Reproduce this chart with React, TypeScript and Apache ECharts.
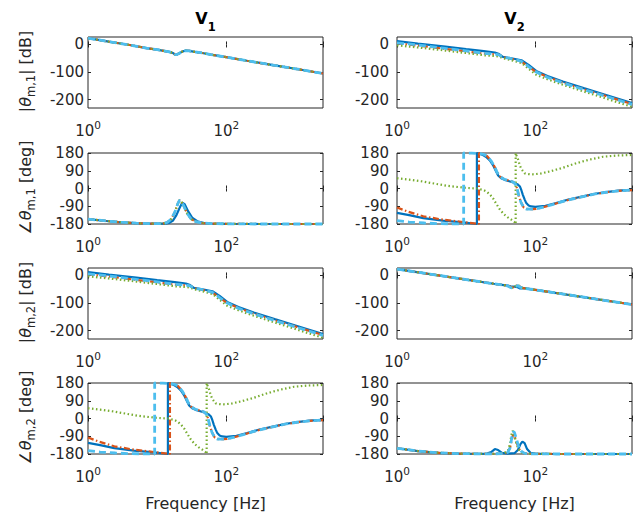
import React, { useEffect, useRef } from "react";
import * as echarts from "echarts";

// ---------------- data ----------------
// Row 1, V1 : |theta_m,1| [dB]
const fMagV1M1 = [1, 2, 4, 7, 10, 13, 15, 17, 18, 19, 21, 23, 26, 29, 35, 45, 60, 100, 200, 500, 1000, 2500];
const magV1M1 = [23, 10, -2, -13, -19, -24, -27, -31, -36, -37, -32, -26, -22, -23, -27, -31, -37, -46, -59, -76, -88, -105];

// Row 1, V2 : |theta_m,1| and Row 3, V1 : |theta_m,2| (cross terms)
const fMagCross = [1, 2, 5, 10, 18, 26, 30, 34, 45, 63, 80, 103, 150, 250, 500, 1000, 2500];
const magCrossBlue = [12, 3, -8, -17, -24, -29, -35, -45, -50, -57, -74, -96, -114, -134, -158, -181, -212];
const magCrossOrange = [4, -4, -16, -25, -33, -36, -38, -46, -52, -62, -80, -100, -118, -138, -162, -185, -216];
const magCrossGreen = [-3, -11, -22, -31, -39, -42, -44, -50, -57, -67, -88, -110, -126, -146, -170, -194, -226];
const magCrossCyan = [6, -2, -14, -23, -32, -35, -38, -46, -51, -61, -80, -100, -119, -139, -163, -186, -217];

// Row 2, V1 : angle theta_m,1 [deg]
const fPhV1M1 = [1, 2, 3, 5, 8, 12, 14, 16, 18, 20, 21, 22, 24, 27, 31, 36, 45, 60, 100, 300, 1000, 2500];
const phV1M1 = [-155, -166, -171, -176, -178, -178, -172, -155, -120, -75, -60, -62, -85, -125, -155, -168, -175, -178, -179, -180, -180, -180];
const fPhV1M1Blue = [1, 2, 3, 5, 8, 13, 15, 17, 19, 21, 23, 25, 28, 32, 38, 48, 60, 100, 300, 1000, 2500];
const phV1M1Blue = [-155, -166, -171, -176, -178, -178, -174, -162, -135, -100, -72, -80, -115, -148, -166, -175, -178, -179, -180, -180, -180];

// Row 2, V2 : angle theta_m,1 and Row 4, V1 : angle theta_m,2 (cross terms)
const fPhCrossBlue = [1, 1.5, 2.4, 4.6, 9, 14.3, 14.3, 17, 19.5, 22, 24.4, 27, 29, 32, 36, 42, 48, 55, 60, 63, 66, 70, 74, 80, 87, 100, 140, 200, 300, 490, 700, 1050, 1600, 2500];
const phCrossBlue = [-124, -135, -150, -163, -172, -180, 180, 172, 160, 142, 119, 88, 66, 52, 44, 37, 30, 22, 10, -10, -32, -55, -74, -86, -91, -93, -88, -74, -56, -40, -28, -18, -11, -7];
const fPhCrossOrange = [1, 1.4, 2.4, 4.6, 9, 15.3, 15.3, 18, 20, 23, 26, 28, 31, 35, 42, 48, 52, 55, 58, 62, 68, 74, 90, 103, 140, 200, 300, 490, 700, 1050, 1600, 2500];
const phCrossOrange = [-96, -116, -141, -158, -170, -180, 180, 174, 165, 140, 108, 82, 60, 48, 40, 33, 20, -5, -40, -70, -96, -104, -105, -103, -92, -76, -58, -41, -29, -19, -12, -8];
const fPhCrossGreen = [1, 1.5, 2.4, 5.2, 10, 14.3, 17.5, 19.6, 22, 24.4, 27, 30.5, 35, 40, 45, 50, 52, 52, 53, 56, 60, 63, 70, 80, 92, 120, 160, 250, 390, 600, 950, 1500, 2500];
const phCrossGreen = [52, 45, 35, 14, 3, 0, -7, -15, -30, -49, -75, -105, -130, -146, -158, -170, -180, 180, 170, 150, 115, 99, 77, 73, 72, 76, 86, 105, 128, 146, 161, 167, 170];
const fPhCrossCyan = [1, 1.5, 2.5, 4, 6, 9.2, 9.2, 12, 15, 18, 20, 23, 26, 28, 31, 35, 42, 48, 52, 55, 58, 62, 68, 74, 90, 103, 140, 200, 300, 490, 700, 1050, 1600, 2500];
const phCrossCyan = [-163, -170, -175, -178, -179, -180, 180, 179, 178, 173, 164, 140, 108, 82, 60, 48, 40, 33, 20, -5, -40, -70, -96, -104, -105, -103, -92, -76, -58, -41, -29, -19, -12, -8];

// Row 3, V2 : |theta_m,2| [dB]
const fMagV2M2 = [1, 3, 10, 25, 35, 40, 44, 48, 52, 56, 60, 65, 72, 100, 300, 1000, 2500];
const magV2M2Blue = [23, 5, -15, -30, -35, -37, -39, -40, -41, -43, -47, -46, -47, -52, -70, -90, -105];
const magV2M2Orange = [23, 5, -15, -30, -35, -37, -41, -43, -38, -35, -40, -45, -47, -52, -70, -90, -105];
const magV2M2Green = [23, 5, -15, -30, -35, -38, -44, -45, -38, -34, -41, -45, -47, -52, -70, -90, -105];
const magV2M2Cyan = [23, 5, -15, -30, -35, -38, -44, -45, -40, -37, -42, -45, -47, -52, -70, -90, -105];

// Row 4, V2 : angle theta_m,2 [deg]
const fPhV2M2Blue = [1, 2, 4, 8, 15, 20, 23, 26, 29, 33, 40, 50, 56, 61, 65, 70, 76, 85, 100, 150, 500, 2500];
const phV2M2Blue = [-151, -165, -174, -178, -179, -178, -170, -155, -160, -174, -178, -176, -160, -130, -117, -125, -155, -174, -178, -179, -180, -180];
const fPhV2M2 = [1, 2, 4, 8, 15, 25, 35, 40, 43, 45, 47, 48.5, 50, 53, 57, 62, 70, 90, 200, 2500];
const phV2M2Orange = [-151, -165, -174, -178, -179, -179, -178, -170, -150, -118, -90, -80, -88, -115, -150, -168, -177, -179, -180, -180];
const phV2M2Green = [-151, -165, -174, -178, -179, -179, -176, -165, -130, -85, -63, -70, -90, -125, -155, -172, -178, -179, -180, -180];
const phV2M2Cyan = [-151, -165, -174, -178, -179, -179, -178, -172, -150, -110, -75, -66, -72, -100, -140, -165, -177, -179, -180, -180];

// Axis ticks / labels
const magTicks = [-200, -100, 0];
const columnTitles = ["1", "2"];
const xLabelExponents = [0, 2];

// ---------------- style / layout ----------------
const BLUE = "#0072BD";
const ORANGE = "#D95319";
const GREEN = "#77AC30";
const CYAN = "#4DBEEE";
const AX = "#262626";
const FONT = "DejaVu Sans";

const COL_LEFT = [88, 397];
const ROW_TOP = [37, 153, 268, 383];
const GW = 235;
const GH = 71;
const LABEL_MARGIN = [4, 8];

const LINE_STYLES = [
  { color: BLUE, width: 2.2, type: "solid" as any },
  { color: ORANGE, width: 2.2, type: [6, 2.5, 1.5, 2.5] as any },
  { color: GREEN, width: 2.2, type: [1.5, 2.5] as any },
  { color: CYAN, width: 2.8, type: [7, 4] as any },
];

type Pair = [number[], number[]];
interface Panel {
  row: number;
  col: number;
  kind: "mag" | "phase";
  lines: Pair[]; // blue, orange, green, cyan
}

const panels: Panel[] = [
  { row: 0, col: 0, kind: "mag", lines: [[fMagV1M1, magV1M1], [fMagV1M1, magV1M1], [fMagV1M1, magV1M1], [fMagV1M1, magV1M1]] },
  { row: 0, col: 1, kind: "mag", lines: [[fMagCross, magCrossBlue], [fMagCross, magCrossOrange], [fMagCross, magCrossGreen], [fMagCross, magCrossCyan]] },
  { row: 1, col: 0, kind: "phase", lines: [[fPhV1M1Blue, phV1M1Blue], [fPhV1M1, phV1M1], [fPhV1M1, phV1M1], [fPhV1M1, phV1M1]] },
  { row: 1, col: 1, kind: "phase", lines: [[fPhCrossBlue, phCrossBlue], [fPhCrossOrange, phCrossOrange], [fPhCrossGreen, phCrossGreen], [fPhCrossCyan, phCrossCyan]] },
  { row: 2, col: 0, kind: "mag", lines: [[fMagCross, magCrossBlue], [fMagCross, magCrossOrange], [fMagCross, magCrossGreen], [fMagCross, magCrossCyan]] },
  { row: 2, col: 1, kind: "mag", lines: [[fMagV2M2, magV2M2Blue], [fMagV2M2, magV2M2Orange], [fMagV2M2, magV2M2Green], [fMagV2M2, magV2M2Cyan]] },
  { row: 3, col: 0, kind: "phase", lines: [[fPhCrossBlue, phCrossBlue], [fPhCrossOrange, phCrossOrange], [fPhCrossGreen, phCrossGreen], [fPhCrossCyan, phCrossCyan]] },
  { row: 3, col: 1, kind: "phase", lines: [[fPhV2M2Blue, phV2M2Blue], [fPhV2M2, phV2M2Orange], [fPhV2M2, phV2M2Green], [fPhV2M2, phV2M2Cyan]] },
];

const zip = (f: number[], v: number[]) => f.map((x, i) => [x, v[i]]);

function xLabelFormatter(v: number) {
  const e = Math.log10(v);
  const r = Math.round(e);
  if (Math.abs(e - r) > 1e-6 || xLabelExponents.indexOf(r) < 0) return "";
  return `{b|10}{s|${r}}`;
}

function buildOption(): any {
  const grid: any[] = [];
  const xAxis: any[] = [];
  const yAxis: any[] = [];
  const series: any[] = [];

  const tickStyle = { inside: true, length: 3, lineStyle: { color: AX, width: 1 } };

  panels.forEach((p) => {
    grid.push({
      left: COL_LEFT[p.col],
      top: ROW_TOP[p.row],
      width: GW,
      height: GH,
      show: true,
      borderColor: AX,
      borderWidth: 1,
      backgroundColor: "#fff",
      containLabel: false,
    });
  });

  // primary x axes
  panels.forEach((p, i) => {
    xAxis.push({
      type: "log",
      logBase: 10,
      gridIndex: i,
      min: 1,
      max: 2500,
      interval: 2,
      position: "bottom",
      axisLine: { show: false },
      axisTick: tickStyle,
      minorTick: { show: false },
      splitLine: { show: false },
      axisLabel: {
        show: true,
        margin: 11,
        color: AX,
        fontFamily: FONT,
        formatter: xLabelFormatter,
        showMinLabel: true,
        rich: {
          b: { fontSize: 15, fontFamily: FONT, color: AX, verticalAlign: "top", padding: [4, 0, 0, 0] },
          s: { fontSize: 10.5, fontFamily: FONT, color: AX, verticalAlign: "top" },
        },
      },
    });
  });
  // mirrored top x axes
  panels.forEach((p, i) => {
    xAxis.push({
      type: "log",
      logBase: 10,
      gridIndex: i,
      min: 1,
      max: 2500,
      interval: 2,
      position: "top",
      axisLine: { show: false },
      axisTick: tickStyle,
      axisLabel: { show: false },
      splitLine: { show: false },
    });
  });

  const yCommon = (p: Panel, i: number, right: boolean) => {
    const base: any = {
      type: "value",
      gridIndex: i,
      position: right ? "right" : "left",
      axisLine: { show: false },
      splitLine: { show: false },
    };
    const lbl = { color: AX, fontFamily: FONT, fontSize: 15, margin: LABEL_MARGIN[p.col] };
    if (p.kind === "mag") {
      base.min = -230;
      base.max = 27;
      base.axisTick = { ...tickStyle, customValues: magTicks };
      base.axisLabel = right ? { show: false } : { ...lbl, customValues: magTicks };
    } else {
      base.min = -180;
      base.max = 180;
      base.interval = 90;
      base.axisTick = tickStyle;
      base.axisLabel = right ? { show: false } : lbl;
    }
    return base;
  };
  panels.forEach((p, i) => yAxis.push(yCommon(p, i, false)));
  panels.forEach((p, i) => yAxis.push(yCommon(p, i, true)));

  panels.forEach((p, i) => {
    p.lines.forEach((pair, k) => {
      series.push({
        type: "line",
        xAxisIndex: i,
        yAxisIndex: i,
        data: zip(pair[0], pair[1]),
        showSymbol: false,
        symbol: "none",
        smooth: false,
        clip: false,
        lineStyle: { ...LINE_STYLES[k], cap: "butt" },
        emphasis: { disabled: true },
        silent: true,
        z: 2 + k,
      });
    });
  });

  const nameRich = {
    n: { fontSize: 16, fontFamily: FONT, fill: AX, verticalAlign: "top" },
    t: { fontSize: 16, fontFamily: FONT, fontStyle: "italic", fill: AX, verticalAlign: "top" },
    s: { fontSize: 11.5, fontFamily: FONT, fill: AX, verticalAlign: "top", padding: [8, 0, 0, 0] },
  };
  const graphics: any[] = [];
  const yNames = [
    "{n||}{t|θ}{s|m,1}{n|| [dB]}",
    "{n|∠}{t|θ}{s|m,1}{n| [deg]}",
    "{n||}{t|θ}{s|m,2}{n|| [dB]}",
    "{n|∠}{t|θ}{s|m,2}{n| [deg]}",
  ];
  yNames.forEach((txt, r) => {
    graphics.push({
      type: "text",
      x: 27,
      y: ROW_TOP[r] + GH / 2 - 1,
      rotation: Math.PI / 2,
      silent: true,
      style: { text: txt, rich: nameRich, align: "center", verticalAlign: "middle", fill: AX, fontSize: 16, fontFamily: FONT },
    });
  });
  columnTitles.forEach((t, c) => {
    graphics.push({
      type: "text",
      x: COL_LEFT[c] + GW / 2,
      y: 21.5,
      silent: true,
      style: {
        text: `{v|V}{s|${t}}`,
        align: "center",
        verticalAlign: "middle",
        rich: {
          v: { fontSize: 16, fontWeight: "bold", fontFamily: FONT, fill: "#000", verticalAlign: "top" },
          s: { fontSize: 11.5, fontWeight: "bold", fontFamily: FONT, fill: "#000", verticalAlign: "top", padding: [11, 0, 0, 0] },
        },
      },
    });
    graphics.push({
      type: "text",
      x: COL_LEFT[c] + GW / 2,
      y: 503.5,
      silent: true,
      style: { text: "Frequency [Hz]", align: "center", verticalAlign: "middle", fontSize: 16, fontFamily: FONT, fill: AX },
    });
  });

  return {
    animation: false,
    backgroundColor: "#fff",
    textStyle: { fontFamily: FONT },
    grid,
    xAxis,
    yAxis,
    series,
    graphic: { elements: graphics },
  };
}

export default function App() {
  const ref = useRef<HTMLDivElement>(null);
  useEffect(() => {
    if (!ref.current) return;
    const chart = echarts.init(ref.current, undefined, { renderer: "svg" });
    chart.setOption(buildOption());
    return () => chart.dispose();
  }, []);
  return (
    <div
      ref={ref}
      style={{ position: "fixed", left: 0, top: 0, width: 636, height: 515, background: "#fff" }}
    />
  );
}
